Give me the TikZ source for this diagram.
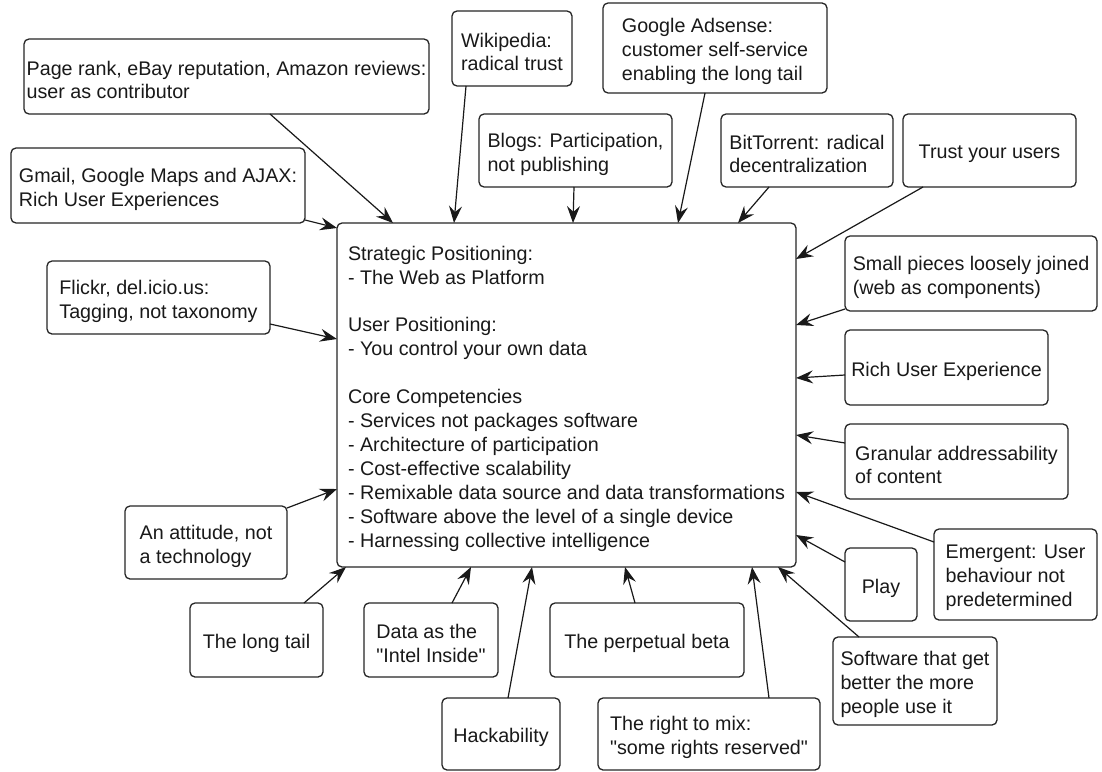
\documentclass[tikz,border=0pt]{standalone}
\usepackage{fontspec}
\setmainfont{Liberation Sans}[Ligatures=TeXOff]
\usetikzlibrary{arrows.meta,calc}
\tikzset{
  bx/.style={draw=black!85, line width=1.3pt, rounded corners=5pt, inner sep=0pt, outer sep=0pt},
  tx/.style={align=left, inner sep=0pt, yshift=-3.5pt, font=\fontsize{19.7}{23.9}\selectfont, text=black!90},
  arr/.style={draw=black!90, line width=1.2pt, -{Stealth[length=17pt,width=13pt,inset=6pt]}}
}
\begin{document}
\begin{tikzpicture}[x=1pt,y=-1pt]
\useasboundingbox[fill=white] (0,0) rectangle (1102,771);
% central node
\node[bx, minimum width=459pt, minimum height=344pt, label={[tx]center:Strategic Positioning:\\- The Web as Platform\\[23.9pt]User Positioning:\\- You control your own data\\[23.9pt]Core Competencies\\- Services not packages software\\- Architecture of participation\\- Cost-effective scalability\\- Remixable data source and data transformations\\- Software above the level of a single device\\- Harnessing collective intelligence}] (c) at (566.5,395) {};
% satellites
\node[bx, minimum width=405pt, minimum height=75pt, label={[tx]center:Page rank, eBay reputation, Amazon reviews:\\user as contributor}] (pr) at (226.5,76.5) {};
\node[bx, minimum width=294pt, minimum height=75pt, label={[tx]center:Gmail, Google Maps and AJAX:\\Rich User Experiences}] (gm) at (158,185.5) {};
\node[bx, minimum width=120pt, minimum height=75pt, label={[tx]center:Wikipedia:\\radical trust}] (wk) at (512,48.5) {};
\node[bx, minimum width=224pt, minimum height=90pt, label={[tx]center:Google Adsense:\\customer self-service\\enabling the long tail}] (ad) at (715,48) {};
\node[bx, minimum width=193pt, minimum height=73pt, label={[tx]center:Blogs: Participation,\\not publishing}] (bl) at (575.5,150.5) {};
\node[bx, minimum width=172pt, minimum height=73pt, label={[tx]center:BitTorrent: radical\\decentralization}] (bt) at (807,150.5) {};
\node[bx, minimum width=173pt, minimum height=73pt, label={[tx]center:Trust your users}] (tr) at (989.5,150.5) {};
\node[bx, minimum width=252pt, minimum height=75pt, label={[tx]center:Small pieces loosely joined\\(web as components)}] (sp) at (971,273.5) {};
\node[bx, minimum width=203pt, minimum height=75pt, label={[tx]center:Rich User Experience}] (ru) at (946.5,367.5) {};
\node[bx, minimum width=223pt, minimum height=75pt, label={[tx]center:Granular addressability\\of content}] (ga) at (956.5,461.5) {};
\node[bx, minimum width=163pt, minimum height=91pt, label={[tx]center:Emergent: User\\behaviour not\\predetermined}] (em) at (1015.5,574.5) {};
\node[bx, minimum width=72pt, minimum height=73pt, label={[tx]center:Play}] (pl) at (881,584.5) {};
\node[bx, minimum width=164pt, minimum height=88pt, label={[tx]center:Software that get\\better the more\\people use it}] (sw) at (915,681) {};
\node[bx, minimum width=222pt, minimum height=72pt, label={[tx]center:The right to mix:\\"some rights reserved"}] (rm) at (709,734) {};
\node[bx, minimum width=194pt, minimum height=74pt, label={[tx]center:The perpetual beta}] (pb) at (647,640) {};
\node[bx, minimum width=118pt, minimum height=72pt, label={[tx]center:Hackability}] (hk) at (501,734) {};
\node[bx, minimum width=134pt, minimum height=74pt, label={[tx]center:Data as the\\"Intel Inside"}] (di) at (431,640) {};
\node[bx, minimum width=133pt, minimum height=74pt, label={[tx]center:The long tail}] (lt) at (256.5,640) {};
\node[bx, minimum width=162pt, minimum height=73pt, label={[tx]center:An attitude, not\\a technology}] (at) at (206,542.5) {};
\node[bx, minimum width=223pt, minimum height=73pt, label={[tx]center:Flickr, del.icio.us:\\Tagging, not taxonomy}] (fl) at (158.5,297.5) {};
% connectors
\draw[arr] ($(pr.south west)+(246,0)$) -- ($(c.north west)+(56,0)$);
\draw[arr] ($(gm.south east)+(0,-3)$) -- ($(c.north west)+(0,5)$);
\draw[arr] ($(fl.north east)+(0,63)$) -- ($(c.north west)+(0,116)$);
\draw[arr] ($(at.north east)+(0,2)$) -- ($(c.north west)+(0,266)$);
\draw[arr] ($(lt.north west)+(114,0)$) -- ($(c.south west)+(9,0)$);
\draw[arr] ($(di.north west)+(88,0)$) -- ($(c.south west)+(134,0)$);
\draw[arr] ($(hk.north west)+(66,0)$) -- ($(c.south west)+(195,0)$);
\draw[arr] ($(pb.north west)+(85,0)$) -- ($(c.south west)+(288,0)$);
\draw[arr] ($(rm.north west)+(171,0)$) -- ($(c.south west)+(415,0)$);
\draw[arr] ($(sw.north west)+(26,0)$) -- ($(c.south west)+(441,0)$);
\draw[arr] ($(pl.north west)+(0,14)$) -- ($(c.north east)+(0,312)$);
\draw[arr] ($(em.north west)+(0,13)$) -- ($(c.north east)+(0,269)$);
\draw[arr] ($(ga.north west)+(0,19)$) -- ($(c.north east)+(0,212)$);
\draw[arr] ($(ru.north west)+(0,45)$) -- ($(c.north east)+(0,155)$);
\draw[arr] ($(sp.south west)+(0,-2)$) -- ($(c.north east)+(0,102)$);
\draw[arr] ($(tr.south west)+(20,0)$) -- ($(c.north east)+(0,36)$);
\draw[arr] ($(bt.south west)+(48,0)$) -- ($(c.north west)+(401,0)$);
\draw[arr] ($(ad.south west)+(102,0)$) -- ($(c.north west)+(341,0)$);
\draw[arr] ($(bl.south west)+(95,0)$) -- ($(c.north west)+(236,0)$);
\draw[arr] ($(wk.south west)+(14,0)$) -- ($(c.north west)+(117,0)$);
\end{tikzpicture}
\end{document}
